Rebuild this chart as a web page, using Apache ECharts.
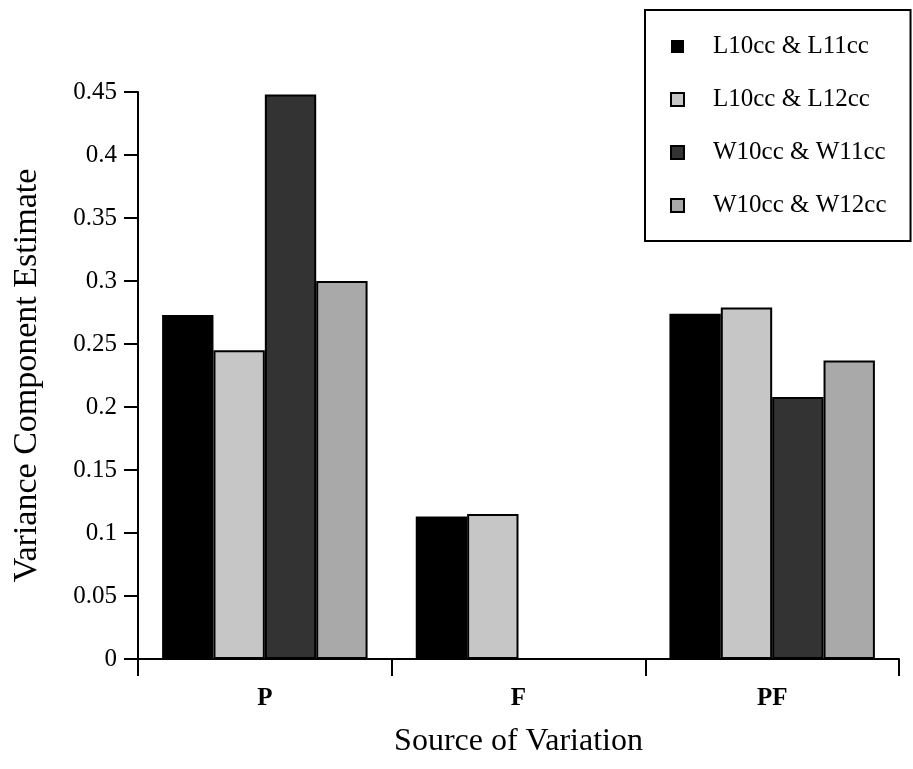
<!DOCTYPE html>
<html>
<head>
<meta charset="utf-8">
<script src="https://cdn.jsdelivr.net/npm/echarts@6/dist/echarts.min.js"></script>
<style>
html,body{margin:0;padding:0;background:#fff;}
#chart{width:913px;height:769px;}
</style>
</head>
<body>
<div id="chart"></div>
<script>
var categories = ['P', 'F', 'PF'];
var seriesNames = ['L10cc & L11cc', 'L10cc & L12cc', 'W10cc & W11cc', 'W10cc & W12cc'];
var valuesL11 = [0.273, 0.113, 0.274];
var valuesL12 = [0.245, 0.115, 0.279];
var valuesW11 = [0.448, 0, 0.208];
var valuesW12 = [0.300, 0, 0.237];
var yTicks = { min: 0, max: 0.45, interval: 0.05 };

var FONT = '"Liberation Serif", "Times New Roman", serif';
var colors = ['#000000', '#c6c6c6', '#333333', '#a9a9a9'];
var allValues = [valuesL11, valuesL12, valuesW11, valuesW12];

var chart = echarts.init(document.getElementById('chart'));
var series = seriesNames.map(function (name, i) {
  return {
    name: name,
    type: 'bar',
    data: allValues[i],
    barGap: '0%',
    barCategoryGap: '19%',
    barMinHeight: 0,
    itemStyle: {
      color: colors[i],
      borderColor: '#000',
      borderWidth: i === 0 ? 0 : 2
    }
  };
});

chart.setOption({
  animation: false,
  backgroundColor: '#fff',
  grid: { left: 138, right: 14, top: 92, bottom: 110 },
  legend: {
    orient: 'vertical',
    left: 645,
    top: 10,
    padding: [24, 24, 23, 25],
    itemGap: 28,
    itemWidth: 13,
    itemHeight: 13,
    icon: 'rect',
    backgroundColor: '#fff',
    borderColor: '#000',
    borderWidth: 2,
    textStyle: {
      fontFamily: FONT,
      fontSize: 25,
      lineHeight: 25,
      color: '#000',
      padding: [0, 0, 0, 24]
    },
    data: seriesNames
  },
  xAxis: {
    type: 'category',
    data: categories,
    name: 'Source of Variation',
    nameLocation: 'middle',
    nameGap: 67,
    nameTextStyle: { fontFamily: FONT, fontSize: 32, color: '#000' },
    axisLine: { lineStyle: { color: '#000', width: 2 } },
    axisTick: { show: true, length: 17, alignWithLabel: false, lineStyle: { color: '#000', width: 2 } },
    axisLabel: { fontFamily: FONT, fontSize: 25, fontWeight: 'bold', color: '#000', margin: 27 }
  },
  yAxis: {
    type: 'value',
    min: yTicks.min,
    max: yTicks.max,
    interval: yTicks.interval,
    name: 'Variance Component Estimate',
    nameLocation: 'middle',
    nameGap: 94,
    nameTextStyle: { fontFamily: FONT, fontSize: 34, color: '#000' },
    axisLine: { show: true, lineStyle: { color: '#000', width: 2 } },
    axisTick: { show: true, length: 14, lineStyle: { color: '#000', width: 2 } },
    axisLabel: { fontFamily: FONT, fontSize: 25, color: '#000', margin: 21 },
    splitLine: { show: false }
  },
  series: series
});
</script>
</body>
</html>
